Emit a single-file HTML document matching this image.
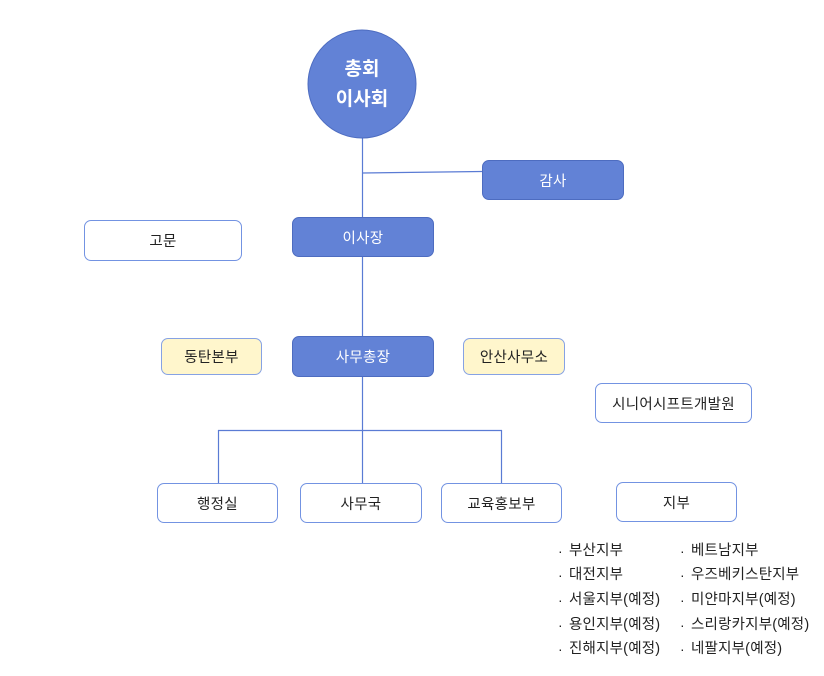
<!DOCTYPE html>
<html><head><meta charset="utf-8">
<style>
html,body{margin:0;padding:0;background:#fff;}
body{width:824px;height:676px;position:relative;overflow:hidden;font-family:"Liberation Sans","Noto Sans CJK KR",sans-serif;}
.b{position:absolute;box-sizing:border-box;border-radius:7px;display:flex;align-items:center;justify-content:center;font-size:14.5px;letter-spacing:0.3px;color:#222;}
.blue{background:#6282d6;border:1px solid #4d6cc0;color:#fff;}
.white{background:#fff;border:1.5px solid #7393e2;}
.yel{background:#fff6cc;border:1.5px solid #86a2e4;}
.l{position:absolute;font-size:14.5px;letter-spacing:0.2px;color:#222;white-space:nowrap;line-height:16px;}
.d{position:absolute;font-size:14px;color:#222;line-height:16px;}
</style></head><body>
<svg width="824" height="676" style="position:absolute;left:0;top:0">
<g stroke="#5a7bd4" stroke-width="1.2" fill="none">
<line x1="362.5" y1="137" x2="362.5" y2="217"/>
<line x1="362.5" y1="173" x2="482" y2="171.5"/>
<line x1="362.5" y1="257" x2="362.5" y2="336"/>
<line x1="362.5" y1="377" x2="362.5" y2="483"/>
<line x1="218" y1="430.5" x2="502" y2="430.5"/>
<line x1="218.5" y1="430" x2="218.5" y2="483"/>
<line x1="501.5" y1="430" x2="501.5" y2="483"/>
</g>
<circle cx="362" cy="84" r="54" fill="#6282d6" stroke="#4d6cc0" stroke-width="1"/>
</svg>
<div style="position:absolute;left:308px;top:55px;width:108px;text-align:center;color:#fff;font-weight:bold;font-size:19px;line-height:30px;">총회<br>이사회</div>
<div class="b blue" style="left:482px;top:160px;width:142px;height:40px;">감사</div>
<div class="b blue" style="left:292px;top:217px;width:142px;height:40px;">이사장</div>
<div class="b white" style="left:84px;top:220px;width:158px;height:41px;">고문</div>
<div class="b blue" style="left:292px;top:336px;width:142px;height:41px;">사무총장</div>
<div class="b yel" style="left:161px;top:338px;width:101px;height:37px;">동탄본부</div>
<div class="b yel" style="left:463px;top:338px;width:102px;height:37px;">안산사무소</div>
<div class="b white" style="left:595px;top:383px;width:157px;height:40px;">시니어시프트개발원</div>
<div class="b white" style="left:157px;top:483px;width:121px;height:40px;">행정실</div>
<div class="b white" style="left:300px;top:483px;width:122px;height:40px;">사무국</div>
<div class="b white" style="left:441px;top:483px;width:121px;height:40px;">교육홍보부</div>
<div class="b white" style="left:616px;top:482px;width:121px;height:40px;">지부</div>

<div class="d" style="left:558px;top:543px;">·</div>
<div class="d" style="left:558px;top:567px;">·</div>
<div class="d" style="left:558px;top:592px;">·</div>
<div class="d" style="left:558px;top:617px;">·</div>
<div class="d" style="left:558px;top:641px;">·</div>
<div class="d" style="left:680px;top:543px;">·</div>
<div class="d" style="left:680px;top:567px;">·</div>
<div class="d" style="left:680px;top:592px;">·</div>
<div class="d" style="left:680px;top:617px;">·</div>
<div class="d" style="left:680px;top:641px;">·</div>

<div class="l" style="left:569px;top:543px;">부산지부</div>
<div class="l" style="left:569px;top:567px;">대전지부</div>
<div class="l" style="left:569px;top:592px;">서울지부(예정)</div>
<div class="l" style="left:569px;top:617px;">용인지부(예정)</div>
<div class="l" style="left:569px;top:641px;">진해지부(예정)</div>
<div class="l" style="left:691px;top:543px;">베트남지부</div>
<div class="l" style="left:691px;top:567px;">우즈베키스탄지부</div>
<div class="l" style="left:691px;top:592px;">미얀마지부(예정)</div>
<div class="l" style="left:691px;top:617px;">스리랑카지부(예정)</div>
<div class="l" style="left:691px;top:641px;">네팔지부(예정)</div>
</body></html>
